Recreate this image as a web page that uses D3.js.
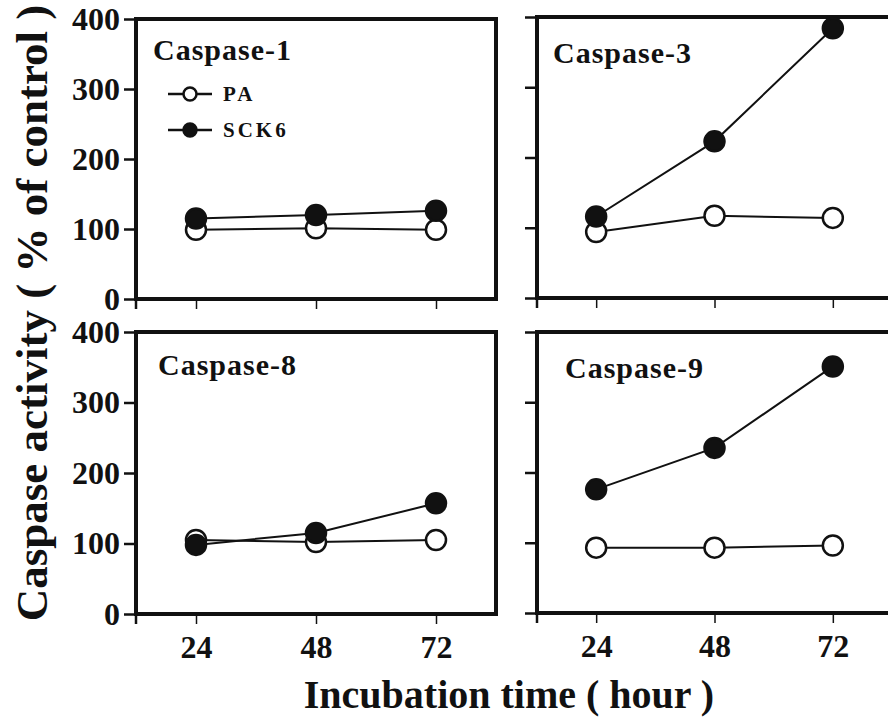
<!DOCTYPE html>
<html>
<head>
<meta charset="utf-8">
<script src="https://cdn.jsdelivr.net/npm/d3@7"></script>
<style>
  body { margin: 0; background: #fff; }
  text { font-family: "Liberation Serif", "Times New Roman", serif; font-weight: bold; fill: #111; }
</style>
</head>
<body>
<div id="chart"></div>
<script>
// data
var hours = [24, 48, 72];
var panelNames = ["Caspase-1", "Caspase-3", "Caspase-8", "Caspase-9"];
var paValues   = [[99, 101, 99], [94, 117, 114], [105, 102, 105], [93, 93, 96]];
var sck6Values = [[115, 120, 126], [116, 223, 384], [98, 115, 157], [176, 235, 351]];
var yTicks = [0, 100, 200, 300, 400];
var seriesNames = ["PA", "SCK6"];

var W = 888, H = 720;

// panel boxes (pixel layout)
var boxes = [
  {x0: 136, x1: 496, y0: 19,  y1: 299, tx: 17, ty: 41, left: true,  bottom: false},
  {x0: 537, x1: 892, y0: 17,  y1: 298, tx: 16, ty: 46, left: false, bottom: false},
  {x0: 136, x1: 496, y0: 332, y1: 614, tx: 22, ty: 43, left: true,  bottom: true},
  {x0: 537, x1: 892, y0: 332, y1: 613, tx: 28, ty: 46, left: false, bottom: true}
];

var svg = d3.select("#chart").append("svg")
  .attr("width", W)
  .attr("height", H);

boxes.forEach(function(b, i) {
  var x = d3.scaleLinear().domain([12, 84]).range([b.x0, b.x1]);
  var y = d3.scaleLinear().domain([0, 400]).range([b.y1, b.y0]);
  var g = svg.append("g");

  // y axis
  var ya = g.append("g")
    .attr("transform", "translate(" + b.x0 + ",0)")
    .call(d3.axisLeft(y).tickValues(yTicks).tickSize(12).tickSizeOuter(0).tickPadding(4));
  ya.select(".domain").remove();
  ya.selectAll(".tick line").attr("stroke", "#111").attr("stroke-width", 2.5);
  ya.selectAll("text")
    .style("font-size", "32px")
    .attr("fill", "#111")
    .text(function(d) { return b.left ? d : ""; });

  // x axis
  var xa = g.append("g")
    .attr("transform", "translate(0," + b.y1 + ")")
    .call(d3.axisBottom(x).tickValues(hours).tickSize(10).tickSizeOuter(0).tickPadding(10));
  xa.select(".domain").remove();
  xa.selectAll(".tick line").attr("stroke", "#111").attr("stroke-width", 1.5);
  xa.selectAll("text")
    .style("font-size", "32px")
    .attr("fill", "#111")
    .attr("dy", "0.75em")
    .text(function(d) { return b.bottom ? d : ""; });

  // frame
  g.append("rect")
    .attr("x", b.x0).attr("y", b.y0)
    .attr("width", b.x1 - b.x0).attr("height", b.y1 - b.y0)
    .attr("fill", "none").attr("stroke", "#111").attr("stroke-width", 4);
  // small overhang of the y axis below the x axis
  g.append("line")
    .attr("x1", b.x0).attr("x2", b.x0)
    .attr("y1", b.y1).attr("y2", b.y1 + 10)
    .attr("stroke", "#111").attr("stroke-width", 2.5);

  // title
  g.append("text")
    .attr("x", b.x0 + b.tx).attr("y", b.y0 + b.ty)
    .style("font-size", "30px")
    .style("letter-spacing", "1px")
    .text(panelNames[i]);

  var line = d3.line()
    .x(function(d, j) { return x(hours[j]); })
    .y(function(d) { return y(d); });

  [paValues[i], sck6Values[i]].forEach(function(vals, s) {
    g.append("path")
      .datum(vals)
      .attr("d", line)
      .attr("fill", "none")
      .attr("stroke", "#111")
      .attr("stroke-width", 2);
  });
  [paValues[i], sck6Values[i]].forEach(function(vals, s) {
    g.selectAll(".pt" + s)
      .data(vals)
      .enter()
      .append("circle")
        .attr("cx", function(d, j) { return x(hours[j]); })
        .attr("cy", function(d) { return y(d); })
        .attr("r", 10)
        .attr("fill", s == 0 ? "#fff" : "#111")
        .attr("stroke", "#111")
        .attr("stroke-width", 2.5);
  });

  // legend in the first panel
  if (i == 0) {
    var leg = g.selectAll(".leg")
      .data(seriesNames)
      .enter()
      .append("g")
        .attr("transform", function(d, k) { return "translate(168," + (94 + k * 36) + ")"; });
    leg.append("line")
      .attr("x1", 0).attr("x2", 44)
      .attr("stroke", "#111").attr("stroke-width", 2.5);
    leg.append("circle")
      .attr("cx", 22).attr("r", 6.5)
      .attr("fill", function(d, k) { return k == 0 ? "#fff" : "#111"; })
      .attr("stroke", "#111").attr("stroke-width", 2.5);
    leg.append("text")
      .attr("x", 55).attr("dy", "0.35em")
      .style("font-size", "21px")
      .style("letter-spacing", "3px")
      .text(function(d) { return d; });
  }
});

// axis titles
svg.append("text")
  .attr("transform", "translate(47,313) rotate(-90)")
  .attr("text-anchor", "middle")
  .style("font-size", "45px")
  .text("Caspase activity ( % of control )");

svg.append("text")
  .attr("x", 509).attr("y", 708)
  .attr("text-anchor", "middle")
  .style("font-size", "40px")
  .text("Incubation time ( hour )");
</script>
</body>
</html>
